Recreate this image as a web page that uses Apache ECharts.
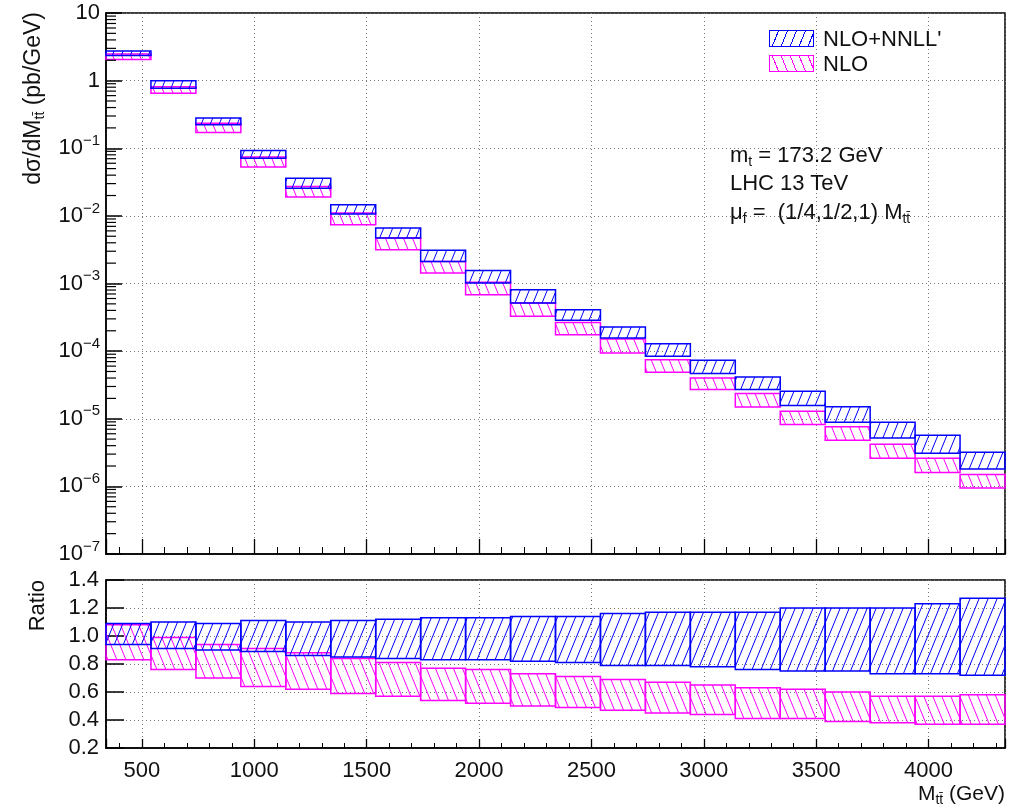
<!DOCTYPE html>
<html>
<head>
<meta charset="utf-8">
<title>M_tt differential cross section</title>
<script src="https://cdn.jsdelivr.net/npm/echarts@6/dist/echarts.min.js"></script>
<style>
  html, body { margin: 0; padding: 0; background: #fff; }
  #wrap { position: relative; width: 1012px; height: 809px; }
  #chart { position: absolute; left: 0; top: 0; width: 1012px; height: 809px; }
  .t {
    position: absolute;
    font-family: 'Liberation Sans', Arial, Helvetica, sans-serif;
    font-size: 22px;
    line-height: 28px;
    color: #111;
    white-space: nowrap;
  }
  .t sub { font-size: 14px; vertical-align: -4px; line-height: 0; }
  .rot { transform: rotate(-90deg); transform-origin: 0 0; text-align: right; }
  .swatch { position: absolute; width: 43px; height: 15px; }
  .blue {
    border: 1.5px solid #0000ff;
    background: repeating-linear-gradient(112deg, transparent 0 7.3px, #0000ff 7.3px 8.3px);
  }
  .magenta {
    border: 1.5px solid #ff00ff;
    background: repeating-linear-gradient(68deg, transparent 0 7.3px, #ff00ff 7.3px 8.3px);
  }
</style>
</head>
<body>
<div id="wrap">
  <div id="chart"></div>
  <div class="t rot" style="left:17px; top:312px; width:300px; font-size:23px; line-height:30px;">d&sigma;/dM<sub>tt&#772;</sub> (pb/GeV)</div>
  <div class="t rot" style="left:23px; top:780px; width:200px;">Ratio</div>
  <div class="t" style="right:7px; top:779px; font-size:21px;">M<sub>tt&#772;</sub> (GeV)</div>
  <div class="swatch blue" style="left:769px; top:30px;"></div>
  <div class="t" style="left:823px; top:25px;">NLO+NNLL'</div>
  <div class="swatch magenta" style="left:769px; top:55px;"></div>
  <div class="t" style="left:823px; top:50px;">NLO</div>
  <div class="t" style="left:730px; top:141px;">m<sub>t</sub> = 173.2 GeV</div>
  <div class="t" style="left:730px; top:169px;">LHC 13 TeV</div>
  <div class="t" style="left:730px; top:198px;">&mu;<sub>f</sub> = &nbsp;(1/4,1/2,1) M<sub>tt&#772;</sub></div>
</div>
<script>
// bins in M_tt (GeV), 200 GeV wide
const binLow  = [340, 540, 740, 940, 1140, 1340, 1540, 1740, 1940, 2140, 2340, 2540, 2740, 2940, 3140, 3340, 3540, 3740, 3940, 4140];
const binHigh = [540, 740, 940, 1140, 1340, 1540, 1740, 1940, 2140, 2340, 2540, 2740, 2940, 3140, 3340, 3540, 3740, 3940, 4140, 4340];

// dsigma/dM (pb/GeV), scale bands
const resumHi = [2.75, 1.0, 0.279, 0.0925, 0.0361, 0.0146, 0.0066, 0.0031, 0.00156, 0.00081, 0.00041, 0.000228, 0.000129, 0.000073, 0.0000416, 0.0000255, 0.000015, 0.0000089, 0.0000057, 0.0000032];
const resumLo = [2.36, 0.77, 0.222, 0.0714, 0.0257, 0.0107, 0.0047, 0.00212, 0.00102, 0.000515, 0.000285, 0.000157, 0.0000838, 0.0000465, 0.000027, 0.0000157, 0.0000089, 0.0000052, 0.0000031, 0.0000018];
const nloHi   = [2.48, 0.815, 0.235, 0.074, 0.0272, 0.011, 0.0047, 0.00212, 0.00104, 0.000515, 0.000266, 0.000151, 0.0000748, 0.0000402, 0.0000236, 0.0000129, 0.0000076, 0.0000042, 0.0000026, 0.0000015];
const nloLo   = [2.06, 0.652, 0.171, 0.0526, 0.019, 0.0074, 0.00316, 0.00143, 0.000684, 0.000327, 0.000175, 0.000094, 0.0000486, 0.000027, 0.0000149, 0.0000082, 0.0000048, 0.0000026, 0.0000016, 0.00000095];

// ratio panel
const ratioResumHi = [1.09, 1.10, 1.09, 1.11, 1.10, 1.11, 1.12, 1.13, 1.13, 1.14, 1.14, 1.16, 1.17, 1.17, 1.17, 1.20, 1.20, 1.20, 1.23, 1.27];
const ratioResumLo = [0.94, 0.91, 0.90, 0.89, 0.86, 0.85, 0.84, 0.83, 0.83, 0.82, 0.81, 0.79, 0.79, 0.78, 0.76, 0.75, 0.75, 0.73, 0.73, 0.72];
const ratioNloHi   = [1.08, 0.99, 0.94, 0.91, 0.88, 0.84, 0.81, 0.77, 0.76, 0.73, 0.71, 0.69, 0.67, 0.65, 0.63, 0.62, 0.60, 0.57, 0.57, 0.58];
const ratioNloLo   = [0.83, 0.76, 0.70, 0.64, 0.62, 0.59, 0.57, 0.54, 0.52, 0.50, 0.49, 0.47, 0.45, 0.44, 0.41, 0.41, 0.39, 0.38, 0.37, 0.37];

// minor ticks of the log axis (2..9 x 10^k)
const logMinorTicks = [];
for (let k = -7; k < 1; k++) {
  for (let m = 2; m <= 9; m++) logMinorTicks.push(m * Math.pow(10, k));
}

const BLUE = '#0000ff';
const MAGENTA = '#ff00ff';
const FONT = 'Liberation Sans, Arial, Helvetica, sans-serif';
const FS = 22;

function hatch(color, dir) {
  const w = 9, h = 22;
  const c = document.createElement('canvas');
  c.width = w;
  c.height = h;
  const ctx = c.getContext('2d');
  ctx.strokeStyle = color;
  ctx.lineWidth = 1;
  ctx.beginPath();
  for (let k = -1; k <= 1; k++) {
    if (dir > 0) {
      ctx.moveTo(k * w, h);
      ctx.lineTo(k * w + w, 0);
    } else {
      ctx.moveTo(k * w, 0);
      ctx.lineTo(k * w + w, h);
    }
  }
  ctx.stroke();
  return { image: c, repeat: 'repeat' };
}

const bluePattern = hatch(BLUE, 1);
const magentaPattern = hatch(MAGENTA, -1);

function bandData(lo, hi) {
  return binLow.map((x0, i) => [x0, binHigh[i], lo[i], hi[i]]);
}

function bandItem(fill, stroke) {
  return function (params, api) {
    const a = api.coord([api.value(0), api.value(3)]);
    const b = api.coord([api.value(1), api.value(2)]);
    return {
      type: 'rect',
      shape: { x: a[0], y: a[1], width: b[0] - a[0], height: b[1] - a[1] },
      style: { fill: fill, stroke: stroke, lineWidth: 1.5 }
    };
  };
}

function logLabel(v) {
  const e = Math.round(Math.log10(v));
  if (e === 1) return '{b|10}';
  if (e === 0) return '{b|1}';
  return '{b|10}{s|\u2212' + (-e) + '}';
}

const dotted = { color: '#777', type: [1, 3], width: 1 };

function xAxisFor(grid, showLabels, major, minor) {
  return {
    gridIndex: grid,
    type: 'value',
    min: 340,
    max: 4340,
    splitNumber: 8,
    minInterval: 500,
    maxInterval: 500,
    axisLine: { show: true, lineStyle: { color: '#000', width: 1.5 } },
    axisTick: { show: true, inside: true, length: major, lineStyle: { color: '#000', width: 1.3 } },
    minorTick: { show: true, splitNumber: 5, length: minor, lineStyle: { color: '#000', width: 1 } },
    splitLine: { show: true, lineStyle: dotted },
    axisLabel: {
      show: showLabels,
      showMinLabel: false,
      showMaxLabel: false,
      formatter: v => String(v),
      fontSize: FS,
      color: '#111',
      fontFamily: FONT,
      margin: 12
    }
  };
}

const chart = echarts.init(document.getElementById('chart'), null, { renderer: 'canvas' });

const option = {
  animation: false,
  backgroundColor: '#fff',
  textStyle: { fontFamily: FONT },
  grid: [
    { left: 106, top: 13, width: 899, height: 541, show: true, borderColor: '#000', borderWidth: 1.5 },
    { left: 106, top: 580, width: 899, height: 168, show: true, borderColor: '#000', borderWidth: 1.5 }
  ],
  xAxis: [
    xAxisFor(0, false, 15, 7),
    xAxisFor(1, true, 9, 5)
  ],
  yAxis: [
    {
      gridIndex: 0,
      type: 'log',
      logBase: 10,
      min: 1e-7,
      max: 10,
      splitNumber: 8,
      axisLine: { show: true, lineStyle: { color: '#000', width: 1.5 } },
      axisTick: { show: true, inside: true, length: 16, lineStyle: { color: '#000', width: 1.5 } },
      splitLine: { show: true, lineStyle: dotted },
      axisLabel: {
        formatter: logLabel,
        margin: 6,
        rich: {
          b: { fontSize: FS, lineHeight: 30, color: '#111', fontFamily: FONT },
          s: { fontSize: 15, lineHeight: 15, color: '#111', fontFamily: FONT, verticalAlign: 'top' }
        }
      }
    },
    {
      gridIndex: 1,
      type: 'value',
      min: 0.2,
      max: 1.4,
      interval: 0.2,
      axisLine: { show: true, lineStyle: { color: '#000', width: 1.5 } },
      axisTick: { show: true, inside: true, length: 18, lineStyle: { color: '#000', width: 1.5 } },
      splitLine: { show: true, lineStyle: dotted },
      axisLabel: {
        formatter: v => v.toFixed(1),
        fontSize: FS,
        color: '#111',
        fontFamily: FONT,
        margin: 7
      }
    }
  ],
  series: [
    {
      name: 'log minor ticks',
      type: 'custom',
      xAxisIndex: 0,
      yAxisIndex: 0,
      data: logMinorTicks.map(v => [340, v]),
      encode: { x: 0, y: 1 },
      z: 5,
      silent: true,
      renderItem: function (params, api) {
        const p = api.coord([api.value(0), api.value(1)]);
        return {
          type: 'line',
          shape: { x1: p[0], y1: p[1], x2: p[0] + 10, y2: p[1] },
          style: { stroke: '#000', lineWidth: 1.2 }
        };
      }
    },
    {
      name: 'NLO',
      type: 'custom',
      xAxisIndex: 0,
      yAxisIndex: 0,
      data: bandData(nloLo, nloHi),
      encode: { x: [0, 1], y: [2, 3] },
      renderItem: bandItem(magentaPattern, MAGENTA)
    },
    {
      name: "NLO+NNLL'",
      type: 'custom',
      xAxisIndex: 0,
      yAxisIndex: 0,
      data: bandData(resumLo, resumHi),
      encode: { x: [0, 1], y: [2, 3] },
      renderItem: bandItem(bluePattern, BLUE)
    },
    {
      name: 'NLO ratio',
      type: 'custom',
      xAxisIndex: 1,
      yAxisIndex: 1,
      data: bandData(ratioNloLo, ratioNloHi),
      encode: { x: [0, 1], y: [2, 3] },
      renderItem: bandItem(magentaPattern, MAGENTA)
    },
    {
      name: "NLO+NNLL' ratio",
      type: 'custom',
      xAxisIndex: 1,
      yAxisIndex: 1,
      data: bandData(ratioResumLo, ratioResumHi),
      encode: { x: [0, 1], y: [2, 3] },
      renderItem: bandItem(bluePattern, BLUE)
    }
  ]
};

chart.setOption(option);
</script>
</body>
</html>
